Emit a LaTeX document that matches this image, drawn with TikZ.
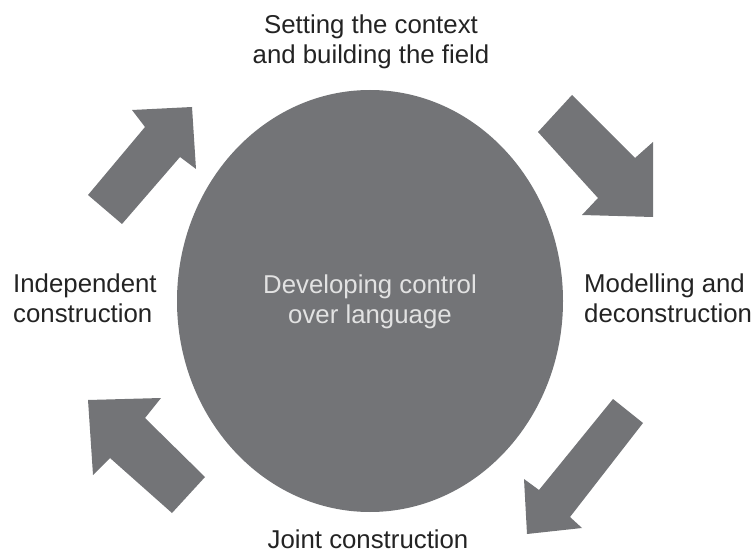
\documentclass[tikz,border=0pt]{standalone}
\usepackage{fontspec}
\setmainfont{Liberation Sans}
\begin{document}
\definecolor{cyclegray}{RGB}{115,116,119}
\definecolor{labelink}{RGB}{35,35,35}
\definecolor{corelabel}{RGB}{226,226,226}
\begin{tikzpicture}[x=1pt,y=-1pt,
  blockarrow/.style={fill=cyclegray,draw=none},
  stage/.style={inner sep=0pt,text=labelink,font=\fontsize{25.8}{30}\selectfont},
  core/.style={ellipse,fill=cyclegray,draw=none,inner sep=0pt},
  corelabeltext/.style={inner sep=0pt,text=corelabel,align=center,font=\fontsize{25.8}{30}\selectfont}]
  \useasboundingbox (0,0) rectangle (755,553);

  % central ellipse
  \fill[cyclegray] (370,301) ellipse [x radius=193, y radius=211];
  \node[corelabeltext] (core) at (370,301.4) {Developing control\\over language};

  % stage labels
  \node[stage,align=center] (context) at (371,41.4) {Setting the context\\and building the field};
  \node[stage,align=left,anchor=west] (modelling) at (584,298.6) {Modelling and\\deconstruction};
  \node[stage,anchor=base] (joint) at (368,548) {Joint construction};
  \node[stage,align=left,anchor=west] (independent) at (13,298.6) {Independent\\construction};

  % block arrows between the stages
  \fill[blockarrow] (572,95) -- (538,132) -- (598,198) -- (582,215) -- (653,217)
    -- (653,142) -- (635,158) -- cycle;
  \fill[blockarrow] (613,399) -- (643,423) -- (570,517) -- (582,528) -- (527,534)
    -- (524,479) -- (539,490) -- cycle;
  \fill[blockarrow] (205,477) -- (172,513) -- (110,458) -- (93,475) -- (88,400)
    -- (161,398) -- (145,418) -- cycle;
  \fill[blockarrow] (88,195) -- (122,224) -- (180,157) -- (196,169) -- (192,107)
    -- (132,110) -- (145,127) -- cycle;
\end{tikzpicture}
\end{document}
